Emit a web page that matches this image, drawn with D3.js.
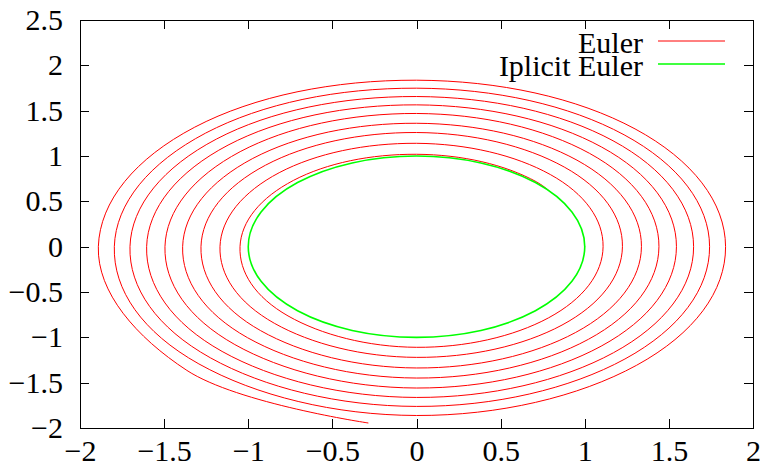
<!DOCTYPE html>
<html>
<head>
<meta charset="utf-8">
<script src="https://d3js.org/d3.v7.min.js"></script>
<style>
  body { margin: 0; background: #ffffff; }
  .axis text { font-family: "Liberation Serif", "Times New Roman", serif; font-size: 30px; fill: #000; }
  .axis path, .axis line { stroke: #000; stroke-width: 1; shape-rendering: crispEdges; }
</style>
</head>
<body>
<div id="chart-area"></div>
<script>
//============================DATA============================
var xTicks = [-2, -1.5, -1, -0.5, 0, 0.5, 1, 1.5, 2];
var xTickLabels = ["−2", "−1.5", "−1", "−0.5", "0", "0.5", "1", "1.5", "2"];
var yTicks = [-2, -1.5, -1, -0.5, 0, 0.5, 1, 1.5, 2, 2.5];
var yTickLabels = ["−2", "−1.5", "−1", "−0.5", "0", "0.5", "1", "1.5", "2", "2.5"];

// Euler: distance from the origin where the spiral crosses each direction, one value per turn
// (east = +x axis, north = +y axis, ...)
var rEast  = [1.000, 1.109, 1.224, 1.337, 1.441, 1.545, 1.647, 1.742, 1.837];
var rNE    = [1.010, 1.125, 1.242, 1.349, 1.455, 1.555, 1.652, 1.745, 1.837];
var rNorth = [1.019, 1.140, 1.259, 1.361, 1.469, 1.564, 1.656, 1.748, 1.836];
var rNW    = [1.034, 1.154, 1.270, 1.376, 1.482, 1.584, 1.680, 1.772, 1.864];
var rWest  = [1.049, 1.168, 1.281, 1.390, 1.495, 1.604, 1.703, 1.796, 1.891];
var rSW    = [1.080, 1.195, 1.310, 1.420, 1.527, 1.634, 1.733, 1.829, 1.930];
var rSouth = [1.110, 1.221, 1.338, 1.449, 1.559, 1.663, 1.762, 1.862];
var rSE    = [1.110, 1.223, 1.338, 1.445, 1.552, 1.655, 1.752, 1.850];
// last point of the Euler curve
var eulerEnd = [-0.286, -1.945];

// Implicit Euler stays on the unit circle
var implicitX = [1, 0.707, 0, -0.707, -1, -0.707, 0, 0.707];
var implicitY = [0, 0.707, 1, 0.707, 0, -0.707, -1, -0.707];

var seriesNames = ["Euler", "Iplicit Euler"];
var seriesColors = ["#ff0000", "#00ff00"];

//============================LAYOUT============================
var margins = { left: 80, right: 15, top: 20, bottom: 40 };
var width = 768 - margins.left - margins.right;
var height = 468 - margins.top - margins.bottom;

var svg = d3.select("#chart-area")
    .append("svg")
    .attr("width", 768)
    .attr("height", 468);

svg.append("rect").attr("width", 768).attr("height", 468).attr("fill", "#fff");

var g = svg.append("g")
    .attr("transform", "translate(" + margins.left + ", " + margins.top + ")");

var x = d3.scaleLinear().domain([-2, 2]).range([0, width]);
var y = d3.scaleLinear().domain([-2, 2.5]).range([height, 0]);

//============================CURVES============================
var dirs = [rEast, rNE, rNorth, rNW, rWest, rSW, rSouth, rSE];
var eulerPts = [];
for (var turn = 0; turn < rEast.length; turn++) {
    dirs.forEach(function(arr, j) {
        if (turn < arr.length) {
            var a = j * Math.PI / 4;
            eulerPts.push([arr[turn] * Math.cos(a), arr[turn] * Math.sin(a)]);
        }
    });
}
eulerPts.push(eulerEnd);

var implicitPts = implicitX.map(function(d, i) { return [d, implicitY[i]]; });

var line = d3.line()
    .x(function(d) { return x(d[0]); })
    .y(function(d) { return y(d[1]); })
    .curve(d3.curveCardinal.tension(-0.125));

g.append("path")
    .attr("d", line(eulerPts))
    .attr("fill", "none")
    .attr("stroke", seriesColors[0])
    .attr("stroke-width", 1);

// the inside of the circle is empty in the original, so fill it white
g.append("path")
    .attr("d", line.curve(d3.curveCardinalClosed.tension(-0.125))(implicitPts))
    .attr("fill", "#fff")
    .attr("stroke", seriesColors[1])
    .attr("stroke-width", 1.6);

//============================AXES============================
// bottom, labelled, ticks pointing in
g.append("g")
    .attr("class", "x axis")
    .attr("transform", "translate(0," + height + ")")
    .call(d3.axisBottom(x).tickValues(xTicks)
        .tickFormat(function(d, i) { return xTickLabels[i]; })
        .tickSize(-9).tickSizeOuter(0).tickPadding(12));

// left, labelled
g.append("g")
    .attr("class", "y axis")
    .call(d3.axisLeft(y).tickValues(yTicks)
        .tickFormat(function(d, i) { return yTickLabels[i]; })
        .tickSize(-9).tickSizeOuter(0).tickPadding(17));

// mirrored ticks on top and right
g.append("g")
    .attr("class", "axis")
    .call(d3.axisTop(x).tickValues(xTicks).tickFormat("").tickSize(-9).tickSizeOuter(0));

g.append("g")
    .attr("class", "axis")
    .attr("transform", "translate(" + width + ",0)")
    .call(d3.axisRight(y).tickValues(yTicks).tickFormat("").tickSize(-9).tickSizeOuter(0));

//============================LEGEND============================
var legendTextX = 643 - margins.left;
var legendLineX = [658 - margins.left, 725 - margins.left];

seriesNames.forEach(function(name, i) {
    var ly = 21 + i * 23;
    g.append("text")
        .attr("x", legendTextX)
        .attr("y", ly + 12)
        .attr("text-anchor", "end")
        .attr("font-family", "Liberation Serif, Times New Roman, serif")
        .attr("font-size", "30px")
        .text(name);
    g.append("line")
        .attr("x1", legendLineX[0]).attr("x2", legendLineX[1])
        .attr("y1", ly).attr("y2", ly)
        .attr("stroke", seriesColors[i])
        .attr("stroke-width", i === 0 ? 1 : 1.6);
});
</script>
</body>
</html>
